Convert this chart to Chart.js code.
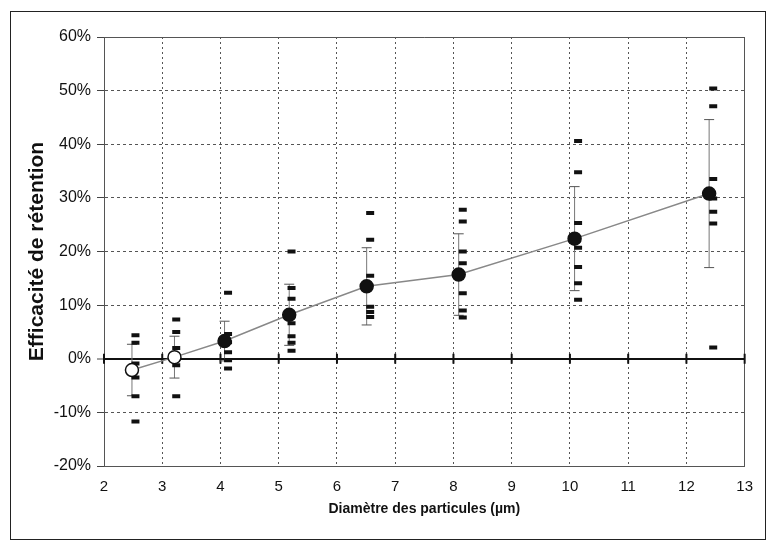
<!DOCTYPE html>
<html>
<head>
<meta charset="utf-8">
<script src="https://cdn.jsdelivr.net/npm/chart.js@4.4.1/dist/chart.umd.min.js"></script>
<style>
html, body { margin: 0; padding: 0; background: #fff; }
#frame { position: absolute; left: 10px; top: 11px; width: 754px; height: 527px; border: 1px solid #222; }
canvas { display: block; }
</style>
</head>
<body>
<div id="frame"><canvas id="chart" width="754" height="527"></canvas></div>
<script>
// diamètre moyen de chaque classe (µm) et efficacité moyenne (%)
var diameters = [2.48, 3.21, 4.07, 5.18, 6.51, 8.09, 10.08, 12.39];
var meanEff = [-2.1, 0.3, 3.3, 8.2, 13.5, 15.7, 22.4, 30.8];
// écart-type (barres d'erreur)
var sdEff = [4.8, 3.9, 3.7, 5.7, 7.2, 7.6, 9.7, 13.8];
// points non significatifs = cercles vides
var openPoint = [true, true, false, false, false, false, false, false];
// mesures individuelles (petits tirets), légèrement décalées à droite
var sampleX = [2.54, 3.24, 4.13, 5.22, 6.57, 8.16, 10.14, 12.46];
var samples = [
  [4.4, 3.0, -0.9, -3.5, -7.0, -11.7],
  [7.3, 5.0, 2.0, -1.2, -7.0],
  [12.3, 4.6, 3.1, 1.2, -0.3, -1.8],
  [20.0, 13.2, 11.2, 6.6, 4.2, 3.0, 1.5],
  [27.2, 22.2, 15.5, 9.7, 8.7, 7.8],
  [27.8, 25.6, 20.0, 17.8, 12.2, 9.0, 7.7],
  [40.6, 34.8, 25.3, 20.7, 17.1, 14.1, 11.0],
  [50.4, 47.1, 33.5, 29.9, 27.4, 25.2, 2.1]
];

var FONT = "'Liberation Sans', Arial, sans-serif";

// points moyens
var meanData = diameters.map(function (d, i) { return { x: d, y: meanEff[i] }; });

// barres d'erreur : segments séparés par un null
var errData = [];
diameters.forEach(function (d, i) {
  errData.push({ x: d, y: meanEff[i] - sdEff[i] });
  errData.push({ x: d, y: meanEff[i] + sdEff[i] });
  errData.push({ x: d, y: null });
});

// tirets des mesures
var sampleData = [];
samples.forEach(function (vals, i) {
  vals.forEach(function (v) { sampleData.push({ x: sampleX[i], y: v }); });
});

// petites graduations sur la ligne du zéro
var zeroTicks = {
  id: 'zeroTicks',
  beforeDatasetsDraw: function (chart) {
    var ctx = chart.ctx, x = chart.scales.x, y = chart.scales.y;
    var y0 = y.getPixelForValue(0);
    ctx.save();
    ctx.strokeStyle = '#111';
    ctx.lineWidth = 2;
    x.ticks.forEach(function (t) {
      var px = x.getPixelForValue(t.value);
      ctx.beginPath();
      ctx.moveTo(px, y0 - 5);
      ctx.lineTo(px, y0 + 5);
      ctx.stroke();
    });
    ctx.restore();
  }
};

var ctx = document.getElementById('chart');
var myChart = new Chart(ctx, {
  type: 'scatter',
  data: {
    datasets: [
      {
        data: meanData,
        showLine: true,
        borderColor: '#888',
        borderWidth: 1.5,
        pointRadius: 6.5,
        pointBorderColor: '#111',
        pointBorderWidth: 1.5,
        pointBackgroundColor: openPoint.map(function (o) { return o ? '#fff' : '#111'; }),
        order: 0
      },
      {
        data: sampleData,
        showLine: false,
        pointStyle: 'line',
        pointRadius: 4,
        pointBorderWidth: 4,
        pointBorderColor: '#111',
        borderColor: '#111',
        order: 1
      },
      {
        data: errData,
        showLine: true,
        spanGaps: false,
        borderColor: '#777',
        borderWidth: 1,
        pointStyle: 'line',
        pointRadius: 5,
        pointBorderWidth: 1,
        pointBorderColor: '#555',
        order: 2
      }
    ]
  },
  options: {
    responsive: false,
    animation: false,
    events: [],
    layout: { padding: { left: 0, right: 13, top: 25, bottom: 0 } },
    plugins: { legend: { display: false }, tooltip: { enabled: false } },
    scales: {
      x: {
        type: 'linear',
        min: 2,
        max: 13,
        afterFit: function (s) { s.height = 73; },
        ticks: { stepSize: 1, color: '#111', padding: 12, font: { family: FONT, size: 15 } },
        grid: {
          drawTicks: false,
          color: '#555',
          lineWidth: 1
        },
        border: {
          color: '#555',
          width: 1,
          dash: function (c) { return c.tick && c.tick.value === 13 ? [] : [2, 3]; }
        },
        title: {
          display: true,
          text: 'Diamètre des particules (µm)',
          color: '#111',
          font: { family: FONT, size: 14, weight: 'bold' },
          padding: { top: 0, bottom: 21 }
        }
      },
      y: {
        min: -20,
        max: 60,
        afterFit: function (s) { s.width = 93; },
        ticks: {
          stepSize: 10,
          color: '#111',
          padding: 6,
          font: { family: FONT, size: 16 },
          callback: function (v) { return v + '%'; }
        },
        grid: {
          tickLength: 7,
          tickColor: '#444',
          tickWidth: 1,
          color: function (c) { return c.tick && c.tick.value === 0 ? '#111' : '#555'; },
          lineWidth: function (c) { return c.tick && c.tick.value === 0 ? 2 : 1; }
        },
        border: {
          color: '#555',
          width: 1,
          dash: function (c) {
            return c.tick && (c.tick.value === 0 || c.tick.value === 60) ? [] : [3, 3];
          }
        },
        title: {
          display: true,
          text: 'Efficacité de rétention',
          color: '#111',
          font: { family: FONT, size: 21, weight: 'bold' },
          padding: { top: 14, bottom: 0 }
        }
      }
    }
  },
  plugins: [zeroTicks]
});
</script>
</body>
</html>
